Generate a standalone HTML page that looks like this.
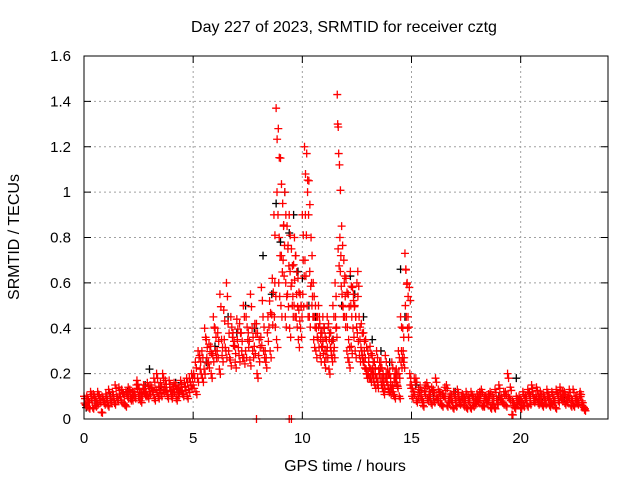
<!DOCTYPE html>
<html><head><meta charset="utf-8"><style>
body{margin:0;background:#fff}
svg{display:block;font-family:"Liberation Sans",sans-serif}
</style></head><body>
<svg id="chart" width="640" height="480">
<rect width="640" height="480" fill="#fff"/>
<g id="grid"></g>
<g id="pts"></g>
<rect x="84" y="56" width="524" height="363" fill="none" stroke="#000" stroke-width="1"/>
<g id="axes"></g>
<text x="344" y="32" font-size="16" text-anchor="middle">Day 227 of 2023, SRMTID for receiver cztg</text>
<text x="345" y="471" font-size="16" text-anchor="middle">GPS time / hours</text>
<text transform="translate(19,237) rotate(-90)" font-size="16" text-anchor="middle">SRMTID / TECUs</text>
</svg>
<script>
const xTicks=[0,5,10,15,20];
const yTicks=[0,0.2,0.4,0.6,0.8,1,1.2,1.4,1.6];
const yLabels=["0","0.2","0.4","0.6","0.8","1","1.2","1.4","1.6"];
const blackT=[0.1,0.5,1.2,2.0,2.8,3.0,3.5,4.2,5.6,6.0,6.6,7.0,7.4,7.8,8.2,8.6,8.8,9.0,9.2,9.4,9.6,9.8,10.0,10.3,10.6,11.0,11.4,11.8,12.2,12.4,12.8,13.2,13.6,14.0,14.5,14.7,15.2,16,17,18,19,19.8,21,22];
const blackV=[0.05,0.08,0.1,0.12,0.15,0.22,0.14,0.16,0.25,0.32,0.45,0.38,0.5,0.4,0.72,0.55,0.95,0.78,1.0,0.82,0.9,0.65,0.62,0.5,0.45,0.4,0.35,0.5,0.63,0.55,0.45,0.35,0.3,0.25,0.66,0.45,0.15,0.1,0.12,0.08,0.1,0.18,0.07,0.09];

const baseT=[0.0,0.1,0.2,0.3,0.4,0.5,0.6,0.7,0.8,0.9,1.0,1.1,1.2,1.3,1.4,1.5,1.6,1.7,1.8,1.9,2.0,2.1,2.2,2.3,2.4,2.5,2.6,2.7,2.8,2.9,3.0,3.1,3.2,3.3,3.4,3.5,3.6,3.7,3.8,3.9,4.0,4.1,4.2,4.3,4.4,4.5,4.6,4.7,4.8,4.9];
const baseV1=[0.1,0.06,0.08,0.12,0.05,0.09,0.07,0.1,0.03,0.08,0.11,0.06,0.09,0.12,0.07,0.1,0.14,0.08,0.11,0.06,0.1,0.13,0.09,0.12,0.15,0.1,0.08,0.13,0.11,0.16,0.12,0.14,0.18,0.13,0.1,0.16,0.2,0.14,0.12,0.17,0.1,0.13,0.15,0.11,0.14,0.12,0.16,0.18,0.13,0.15];
const baseV2=[0.07,0.1,0.05,0.09,0.11,0.06,0.12,0.08,0.1,0.07,0.09,0.13,0.08,0.1,0.15,0.09,0.11,0.13,0.07,0.12,0.14,0.09,0.12,0.1,0.17,0.13,0.11,0.15,0.12,0.1,0.15,0.12,0.09,0.2,0.14,0.11,0.13,0.17,0.1,0.14,0.12,0.16,0.09,0.13,0.17,0.11,0.14,0.1,0.18,0.2];

const growthT=[5.0,5.1,5.2,5.3,5.4,5.5,5.6,5.7,5.8,5.9,6.0,6.1,6.2,6.3,6.4,6.5,6.6,6.7,6.8,6.9,7.0,7.1,7.2,7.3,7.4,7.5,7.6,7.7,7.8,7.9,8.0,8.1,8.2,8.3,8.4,8.5,8.6];
const growthV1=[0.15,0.25,0.18,0.28,0.3,0.22,0.35,0.25,0.32,0.28,0.4,0.3,0.22,0.35,0.48,0.3,0.42,0.26,0.36,0.32,0.44,0.28,0.38,0.5,0.3,0.35,0.26,0.4,0.32,0.42,0.28,0.36,0.45,0.3,0.38,0.52,0.46];
const growthV2=[0.2,0.12,0.3,0.22,0.18,0.4,0.27,0.33,0.2,0.45,0.3,0.38,0.55,0.28,0.35,0.6,0.3,0.45,0.38,0.25,0.35,0.42,0.3,0.27,0.45,0.38,0.55,0.3,0.42,0.2,0.35,0.58,0.3,0.25,0.45,0.3,0.62];

const peakT=[8.7,8.8,8.9,9.0,9.1,9.2,9.3,9.4,9.5,9.6,9.7,9.8,9.9,10.0,10.1,10.2,10.3,10.4,10.5,10.6,10.7,10.8,10.9,11.0,11.1,11.2,11.3,11.4,11.5,11.6,11.7,11.8,11.9];
const peakV1=[0.9,1.37,1.28,1.15,0.95,1.0,0.85,0.9,0.75,0.68,0.72,0.62,0.55,0.9,1.2,1.17,1.05,0.8,0.6,0.5,0.45,0.42,0.38,0.4,0.35,0.42,0.38,0.5,0.6,1.43,1.12,0.85,0.7];
const peakV2=[0.45,0.35,0.6,0.5,0.7,0.45,0.55,0.4,0.6,0.5,0.45,0.35,0.4,0.55,0.7,0.5,0.45,0.6,0.35,0.3,0.35,0.28,0.32,0.25,0.3,0.22,0.3,0.35,0.45,1.3,0.8,0.55,0.6];
const peakV3=[0.6,1.0,0.8,0.72,0.85,0.6,0.75,0.65,0.5,0.8,0.55,0.48,0.5,0.7,0.9,1.0,0.65,0.5,0.45,0.4,0.5,0.35,0.45,0.3,0.45,0.35,0.28,0.3,0.4,0.75,0.65,0.5,0.45];

const decayT=[12.0,12.1,12.2,12.3,12.4,12.5,12.6,12.7,12.8,12.9,13.0,13.1,13.2,13.3,13.4,13.5,13.6,13.7,13.8,13.9,14.0,14.1,14.2,14.3,14.4,14.5,14.6,14.7,14.8,14.9];
const decayV1=[0.62,0.55,0.65,0.58,0.5,0.6,0.45,0.42,0.38,0.35,0.3,0.32,0.28,0.25,0.3,0.22,0.25,0.2,0.28,0.22,0.2,0.25,0.18,0.22,0.3,0.45,0.4,0.73,0.6,0.58];
const decayV2=[0.45,0.35,0.5,0.4,0.3,0.38,0.28,0.3,0.25,0.22,0.2,0.18,0.22,0.15,0.18,0.2,0.15,0.12,0.18,0.15,0.12,0.15,0.1,0.16,0.2,0.25,0.3,0.5,0.4,0.2];
const decayV3=[0.3,0.25,0.32,0.55,0.45,0.65,0.35,0.28,0.3,0.2,0.25,0.22,0.18,0.2,0.15,0.25,0.18,0.15,0.2,0.13,0.15,0.12,0.2,0.15,0.1,0.3,0.25,0.66,0.45,0.15];

const quietT=[15.0,15.1,15.2,15.3,15.4,15.5,15.6,15.7,15.8,15.9,16.0,16.1,16.2,16.3,16.4,16.5,16.6,16.7,16.8,16.9,17.0,17.1,17.2,17.3,17.4,17.5,17.6,17.7,17.8,17.9,18.0,18.1,18.2,18.3,18.4,18.5,18.6,18.7,18.8,18.9,19.0,19.1,19.2,19.3,19.4,19.5,19.6,19.7,19.8,19.9,20.0,20.1,20.2,20.3,20.4,20.5,20.6,20.7,20.8,20.9,21.0,21.1,21.2,21.3,21.4,21.5,21.6,21.7,21.8,21.9,22.0,22.1,22.2,22.3,22.4,22.5,22.6,22.7,22.8,22.9];
const quietV1=[0.15,0.12,0.18,0.1,0.14,0.08,0.12,0.16,0.1,0.07,0.13,0.18,0.09,0.12,0.06,0.1,0.15,0.08,0.11,0.05,0.09,0.13,0.07,0.1,0.06,0.12,0.08,0.05,0.1,0.07,0.11,0.09,0.13,0.06,0.1,0.08,0.12,0.07,0.05,0.09,0.15,0.1,0.07,0.12,0.2,0.09,0.02,0.06,0.1,0.08,0.05,0.12,0.09,0.06,0.11,0.15,0.08,0.1,0.07,0.12,0.06,0.09,0.13,0.1,0.07,0.08,0.05,0.11,0.14,0.09,0.12,0.08,0.1,0.06,0.13,0.09,0.07,0.11,0.08,0.05];
const quietV2=[0.1,0.18,0.08,0.13,0.1,0.06,0.15,0.09,0.12,0.14,0.08,0.1,0.13,0.07,0.11,0.14,0.06,0.1,0.08,0.12,0.06,0.1,0.08,0.11,0.09,0.05,0.1,0.12,0.06,0.09,0.08,0.12,0.06,0.1,0.08,0.11,0.05,0.1,0.13,0.07,0.1,0.08,0.12,0.06,0.1,0.14,0.08,0.05,0.07,0.1,0.08,0.06,0.1,0.13,0.07,0.12,0.09,0.14,0.1,0.08,0.11,0.07,0.1,0.06,0.12,0.09,0.13,0.08,0.1,0.12,0.07,0.1,0.13,0.09,0.06,0.1,0.08,0.12,0.06,0.04];

const zeroT=[7.9,9.4,9.5];
const zeroV=[0,0,0];

const X=t=>84+t*(524/24);
const Y=v=>419-v*(363/1.6);
const NS='http://www.w3.org/2000/svg';
const grid=document.getElementById('grid'),axes=document.getElementById('axes'),pts=document.getElementById('pts');
function mk(tag,at,parent){const e=document.createElementNS(NS,tag);for(const k in at)e.setAttribute(k,at[k]);parent.appendChild(e);return e;}
xTicks.forEach(t=>{
  const x=X(t);
  const g=mk('line',{x1:x,x2:x,y1:56,y2:419,stroke:'#a0a0a0','stroke-dasharray':'2,3'},grid);
  
  
  mk('line',{x1:x,x2:x,y1:419,y2:412,stroke:'#000'},axes);
  mk('line',{x1:x,x2:x,y1:56,y2:63,stroke:'#000'},axes);
  const tx=mk('text',{x:x,y:443,'font-size':15,'text-anchor':'middle'},axes);tx.textContent=t;
  
  
});
yTicks.forEach((v,i)=>{
  const y=Y(v);
  const g=mk('line',{x1:84,x2:608,y1:y,y2:y,stroke:'#a0a0a0','stroke-dasharray':'2,3'},grid);
  
  
  mk('line',{x1:84,x2:91,y1:y,y2:y,stroke:'#000'},axes);
  mk('line',{x1:608,x2:601,y1:y,y2:y,stroke:'#000'},axes);
  const tx=mk('text',{x:71,y:y+5,'font-size':15,'text-anchor':'end'},axes);tx.textContent=yLabels[i];
  
  
});
function plus(t,v,c,name){
  const x=X(t),y=Y(v);
  const p=mk('path',{d:`M${x-4},${y}h8M${x},${y-4}v8`,stroke:c,'stroke-width':1.3,fill:'none'},pts);
  
  
}
blackT.forEach((t,i)=>plus(t,blackV[i],'#000','black-point'));
function series(T,V,off){
  T.forEach((t,i)=>{
    plus(t+off,V[i],'#f00','red-point');
    plus(t+off+0.045,V[i]*0.9,'#f00','red-point');
  });
}
series(baseT,baseV1,0);series(baseT,baseV2,0.025);
series(growthT,growthV1,0);series(growthT,growthV2,0.025);
series(peakT,peakV1,0);series(peakT,peakV2,0.02);series(peakT,peakV3,0.04);
series(decayT,decayV1,0);series(decayT,decayV2,0.02);series(decayT,decayV3,0.04);
series(quietT,quietV1,0);series(quietT,quietV2,0.025);
zeroT.forEach((t,i)=>plus(t,zeroV[i],'#f00','red-point'));
</script>
</body></html>
